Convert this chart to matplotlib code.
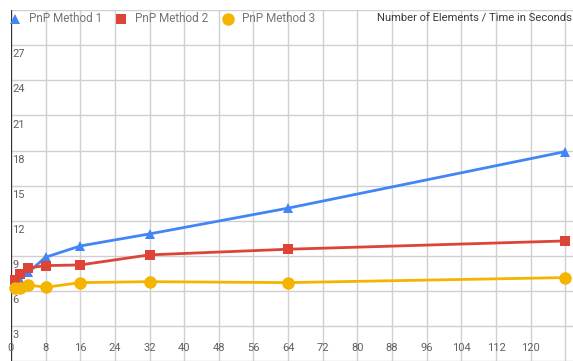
import matplotlib
matplotlib.use("Agg")
import matplotlib.pyplot as plt
from matplotlib.lines import Line2D

plt.rcParams['font.family'] = ['Roboto', 'DejaVu Sans']

# Number of elements on x, time in seconds on y
elements = [1, 2, 4, 8, 16, 32, 64, 128]
method1 = [6.7, 6.95, 7.6, 8.89, 9.85, 10.88, 13.08, 17.91]
method2 = [6.95, 7.44, 7.97, 8.17, 8.23, 9.09, 9.57, 10.28]
method3 = [6.26, 6.26, 6.52, 6.32, 6.72, 6.8, 6.72, 7.15]

series_names = ["PnP Method 1", "PnP Method 2", "PnP Method 3"]
x_ticks = list(range(0, 129, 8))
x_tick_labels = [str(v) for v in range(0, 121, 8)]
y_ticks = list(range(0, 31, 3))
y_tick_labels = [str(v) for v in range(3, 28, 3)]
title = "Number of Elements / Time in Seconds"

colors = ["#4285F4", "#DB4437", "#F4B400"]
markers = ["^", "s", "o"]
msizes = [7, 6.5, 9]

W, H = 573, 361
fig = plt.figure(figsize=(W / 100, H / 100), dpi=100)
left_px, top_px, bottom_px = 11, 10, 361.3
ax = fig.add_axes([left_px / W, 1 - bottom_px / H, (W - left_px) / W,
                   (bottom_px - top_px) / H])
ax.set_xlim(0, (W - left_px) / 4.33)
ax.set_ylim(0, 30)
for s in ax.spines.values():
    s.set_visible(False)
ax.set_xticks(x_ticks)
ax.set_yticks(y_ticks)
ax.tick_params(length=0, labelbottom=False, labelleft=False)
ax.grid(True, color="#d0d0d0", linewidth=1)
ax.set_axisbelow(True)
ax.axvline(0, color="#333333", linewidth=1.6, zorder=2)

for ys, c, m, ms in zip([method1, method2, method3], colors, markers, msizes):
    ax.plot(elements, ys, color=c, linewidth=2, marker=m, markersize=ms,
            markeredgewidth=0, zorder=3, clip_on=False)

# in-chart axis labels
for v, lab in zip(range(3, 28, 3), y_tick_labels):
    ax.annotate(lab, (0, v), xytext=(1, -3), textcoords="offset points",
                ha="left", va="top", fontsize=8, color="#606060")
for v, lab in zip(range(0, 121, 8), x_tick_labels):
    ax.annotate(lab, (v, 0), xytext=(0, 9.5), textcoords="offset points",
                ha="center", va="center", fontsize=8, color="#606060")

# legend across the top
leg_y = 1 - 19 / H
leg_x = [15, 121, 228]
for name, c, m, ms, lx in zip(series_names, colors, markers, msizes, leg_x):
    fig.add_artist(Line2D([lx / W], [leg_y], marker=m, color=c, markersize=ms,
                          markeredgewidth=0, linestyle="none",
                          transform=fig.transFigure))
    fig.text((lx + 14) / W, leg_y, name, ha="left", va="center",
             fontsize=8.5, color="#757575")

fig.text(572 / W, leg_y, title, ha="right", va="center", fontsize=8.1,
         color="#3a3a3a")

fig.savefig("out.png", dpi=100)
